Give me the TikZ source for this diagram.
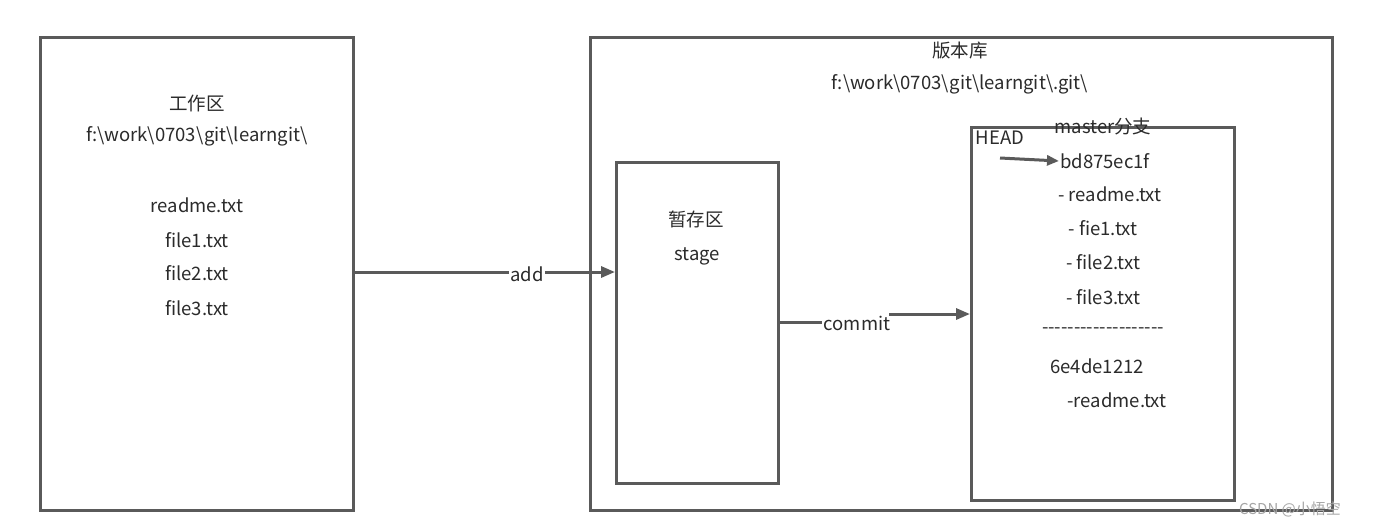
\documentclass[tikz,border=0pt]{standalone}
\usepackage{fontspec}
\setmainfont{Noto Sans CJK SC}
\usetikzlibrary{arrows.meta}
\definecolor{lc}{HTML}{5A5A5A}
\definecolor{tc}{HTML}{2B2B2B}
\tikzset{
  box/.style={draw=lc, line width=3pt},
  lbl/.style={text=tc, font=\fontsize{18.5}{22}\selectfont, inner sep=0pt, anchor=center},
  conn/.style={draw=lc, line width=3pt, -{Triangle[length=14pt,width=11pt]}},
  plain/.style={draw=lc, line width=3pt}
}
\begin{document}
\begin{tikzpicture}[x=1pt,y=-1pt]
\useasboundingbox[fill=white] (0,0) rectangle (1396,528);
% boxes
\draw[box] (40,37) rectangle (353,510);
\draw[box] (590,37) rectangle (1332,510);
\draw[box] (616,162) rectangle (778,483);
\draw[box] (971,127) rectangle (1234,500);
% anchors on box edges
\coordinate (wr) at (353,272);
\coordinate (sl) at (615,272);
\coordinate (sr) at (778,322);
\coordinate (cj) at (889,314);
\coordinate (ml) at (970,314);
\coordinate (hs) at (1000,158);
% working area texts
\node[lbl] (wt) at (197,103) {工作区};
\node[lbl] (wp) at (197,136) {f:\textbackslash work\textbackslash 0703\textbackslash git\textbackslash learngit\textbackslash};
\node[lbl] (w1) at (197,205) {readme.txt};
\node[lbl] (w2) at (197,240) {file1.txt};
\node[lbl] (w3) at (197,273) {file2.txt};
\node[lbl] (w4) at (197,308) {file3.txt};
% repo
\node[lbl] (rt) at (960,50) {版本库};
\node[lbl] (rp) at (960,84) {f:\textbackslash work\textbackslash 0703\textbackslash git\textbackslash learngit\textbackslash .git\textbackslash};
% stage
\node[lbl] (st) at (696,219) {暂存区};
\node[lbl] (ss) at (697,256) {stage};
% master
\node[lbl] (mt) at (1103,126) {master分支};
\node[lbl] (hd) at (1000,138) {HEAD};
\node[lbl] (c1) at (1105,161) {bd875ec1f};
\node[lbl] (f1) at (1110,194) {- readme.txt};
\node[lbl] (f2) at (1103,228) {- fie1.txt};
\node[lbl] (f3) at (1103,262) {- file2.txt};
\node[lbl] (f4) at (1103,297) {- file3.txt};
\node[lbl] (sep) at (1103,331) {-{}-{}-{}-{}-{}-{}-{}-{}-{}-{}-{}-{}-{}-{}-{}-{}-{}-{}-};
\node[lbl] (c2) at (1097,366) {6e4de1212};
\node[lbl] (g1) at (1117,400) {-readme.txt};
% connectors
\draw[conn] (wr) -- (sl);
\node[lbl, fill=white, inner xsep=1pt] (add) at (527,274) {add};
\draw[plain] (sr) -- (sr -| 822,0);
\node[lbl] (cm) at (857,323) {commit};
\draw[conn] (cj) -- (ml);
\draw[conn, -{Triangle[length=12pt,width=10pt]}] (hs) -- ([xshift=-1pt]c1.west);
% watermark
\node[text=black!35, font=\fontsize{15}{18}\selectfont, inner sep=0pt] (wm) at (1290,509) {CSDN @小悟空};
\end{tikzpicture}
\end{document}
